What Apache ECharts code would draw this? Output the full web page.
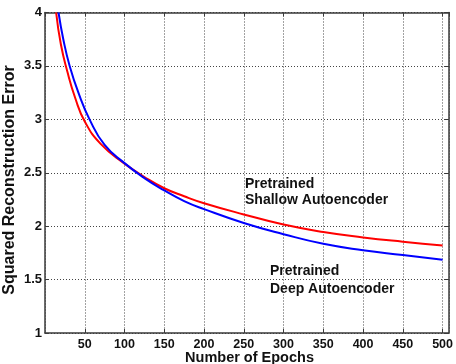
<!DOCTYPE html>
<html>
<head>
<meta charset="utf-8">
<script src="https://cdn.jsdelivr.net/npm/echarts@6/dist/echarts.min.js"></script>
<style>html,body{margin:0;padding:0;background:#fff}#c{width:456px;height:364px}</style>
</head>
<body>
<div id="c"></div>
<script>
var xTicks = [50,100,150,200,250,300,350,400,450,500];
var yTicks = [1,1.5,2,2.5,3,3.5,4];
var shallowEpochs = [14,20,28,38,50,70,100,125,150,175,200,250,300,350,400,450,500];
var shallowError  = [4.0,3.7,3.45,3.2,2.98,2.77,2.585,2.46,2.355,2.28,2.215,2.11,2.015,1.945,1.895,1.855,1.82];
var deepEpochs = [17,23,31,42,56,75,100,125,150,175,200,250,300,350,400,450,500];
var deepError  = [4.0,3.75,3.5,3.25,3.0,2.76,2.59,2.45,2.335,2.235,2.16,2.03,1.925,1.835,1.775,1.73,1.685];
var shallowLabel = 'Pretrained\nShallow Autoencoder';
var deepLabel = 'Pretrained\nDeep Autoencoder';
var xName = 'Number of Epochs';
var yName = 'Squared Reconstruction Error';

function pairs(xs, ys){ return xs.map(function(x,i){return [x, ys[i]];}); }

var FONT = '"Liberation Sans", Arial, sans-serif';
var axisColor = '#3a3a3a';
var gridLine = {show:true, lineStyle:{color:'#444', width:1, type:[1,2]}};

var chart = echarts.init(document.getElementById('c'), null, {renderer:'canvas'});
chart.setOption({
  animation:false,
  backgroundColor:'#fff',
  grid:{left:45, right:4, top:12.5, bottom:31, containLabel:false},
  xAxis:[{
    type:'value', min:0, max:508, interval:50,
    axisLine:{show:true, onZero:false, lineStyle:{color:axisColor, width:1.5}},
    axisTick:{show:true, inside:true, length:4, lineStyle:{color:axisColor}},
    axisLabel:{show:true, margin:5, color:'#111', fontWeight:'bold', fontSize:12.5, fontFamily:FONT, showMinLabel:false, showMaxLabel:false,
      formatter:function(v){ return xTicks.indexOf(v) >= 0 ? String(v) : ''; }},
    splitLine:gridLine
  },{
    type:'value', min:0, max:508, interval:50, position:'top',
    axisLine:{show:true, onZero:false, lineStyle:{color:axisColor, width:1.5}},
    axisTick:{show:true, inside:true, length:4, lineStyle:{color:axisColor}},
    axisLabel:{show:false}, splitLine:{show:false}
  }],
  yAxis:[{
    type:'value', min:1, max:4, interval:0.5,
    axisLine:{show:true, onZero:false, lineStyle:{color:axisColor, width:1.5}},
    axisTick:{show:true, inside:true, length:4, lineStyle:{color:axisColor}},
    axisLabel:{show:true, margin:3, color:'#111', fontWeight:'bold', fontSize:13, fontFamily:FONT,
      formatter:function(v){ return yTicks.indexOf(v) >= 0 ? String(v) : ''; }},
    splitLine:gridLine
  },{
    type:'value', min:1, max:4, interval:0.5, position:'right',
    axisLine:{show:true, onZero:false, lineStyle:{color:axisColor, width:1.5}},
    axisTick:{show:true, inside:true, length:4, lineStyle:{color:axisColor}},
    axisLabel:{show:false}, splitLine:{show:false}
  }],
  series:[{
    type:'line', name:'Shallow', data:pairs(shallowEpochs, shallowError),
    smooth:0.5, showSymbol:false, clip:true,
    lineStyle:{color:'#ff0000', width:2}, z:3
  },{
    type:'line', name:'Deep', data:pairs(deepEpochs, deepError),
    smooth:0.5, showSymbol:false, clip:true,
    lineStyle:{color:'#0000ff', width:2}, z:4
  }],
  graphic:[
    {type:'text', x:245, y:176, style:{text:shallowLabel, font:'bold 14px '+FONT, fill:'#111', lineHeight:16, verticalAlign:'top', align:'left'}},
    {type:'text', x:270, y:262, style:{text:deepLabel, font:'bold 14px '+FONT, fill:'#111', lineHeight:18, verticalAlign:'top', align:'left'}},
    {type:'text', x:249.5, y:357.5, style:{text:xName, font:'bold 14.5px '+FONT, fill:'#111', verticalAlign:'middle', align:'center'}},
    {type:'text', x:10, y:180, rotation:Math.PI/2, style:{text:yName, font:'bold 16px '+FONT, fill:'#111', verticalAlign:'middle', align:'center'}}
  ]
});
</script>
</body>
</html>
